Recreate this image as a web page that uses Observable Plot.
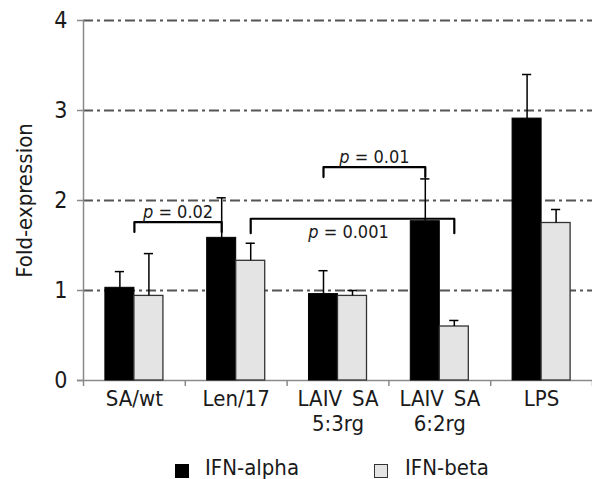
<!DOCTYPE html>
<html>
<head>
<meta charset="utf-8">
<script src="https://cdn.jsdelivr.net/npm/d3@7"></script>
<script src="https://cdn.jsdelivr.net/npm/@observablehq/plot@0.6"></script>
<style>
  html, body { margin: 0; padding: 0; background: #fff; }
  body { width: 592px; height: 479px; overflow: hidden; font-family: 'Liberation Sans Narrow', 'Arial Narrow', 'DejaVu Sans Condensed', sans-serif; color: #1a1a1a; }
  #legend { position: relative; height: 43px; width: 592px; font-size: 22px; }
  #legend .sw { position: absolute; top: 28px; width: 12px; height: 12px; }
  #legend .lb { position: absolute; top: 21px; line-height: 22px; }
</style>
</head>
<body>
<div id="chart"></div>
<div id="legend"></div>
<script>
// ---- data ----
const categories = ["SA/wt", "Len/17", "LAIV\u2002SA\n5:3rg", "LAIV\u2002SA\n6:2rg", "LPS"];
const seriesNames = ["IFN-alpha", "IFN-beta"];
const alphaValues = [1.03, 1.585, 0.96, 1.77, 2.91];
const alphaErrors = [0.18, 0.445, 0.26, 0.47, 0.49];
const betaValues  = [0.94, 1.33, 0.94, 0.60, 1.75];
const betaErrors  = [0.47, 0.195, 0.06, 0.067, 0.15];
const yTicks = [0, 1, 2, 3, 4];
const gridValues = [1, 2, 3, 4];
// significance brackets
const pLabels      = ["p = 0.02", "p = 0.001", "p = 0.01"];
const bracketFrom  = [["SA/wt", "mid"], ["Len/17", "IFN-beta"], ["LAIV\u2002SA\n5:3rg", "IFN-alpha"]];
const bracketTo    = [["Len/17", "IFN-alpha"], ["LAIV\u2002SA\n6:2rg", "IFN-beta"], ["LAIV\u2002SA\n6:2rg", "IFN-alpha"]];
const bracketTop   = [1.76, 1.797, 2.37];
const bracketDrop  = [0.11, 0.16, 0.11];
const labelSide    = ["above", "below", "above"];

// ---- derived ----
const FONT = "'Liberation Sans Narrow', 'Arial Narrow', 'DejaVu Sans Condensed', sans-serif";
const bw = 0.285; // bar width in category units
const colors = {"IFN-alpha": "#000000", "IFN-beta": "#e4e4e4"};
const rows = categories.map((c, i) => ({
  cat: c, i,
  alpha: alphaValues[i], alphaTop: alphaValues[i] + alphaErrors[i],
  beta: betaValues[i], betaTop: betaValues[i] + betaErrors[i]
}));
const pos = ([cat, s]) => {
  const c = categories.indexOf(cat) + 0.5;
  return s === "IFN-alpha" ? c - bw / 2 : s === "IFN-beta" ? c + bw / 2 : c;
};
const bracketPts = [];
const bracketTexts = [];
pLabels.forEach((p, k) => {
  const x1 = pos(bracketFrom[k]), x2 = pos(bracketTo[k]);
  const t = bracketTop[k], b = t - bracketDrop[k];
  bracketPts.push({k, x: x1, y: b}, {k, x: x1, y: t}, {k, x: x2, y: t}, {k, x: x2, y: b});
  bracketTexts.push({p, x: (x1 + x2) / 2, y: t, side: labelSide[k]});
});

const capHalf = 0.045;

const chart = Plot.plot({
  width: 592,
  height: 436,
  marginLeft: 83,
  marginRight: 0,
  marginTop: 20,
  marginBottom: 56,
  style: {fontFamily: FONT, color: "#1a1a1a", background: "#fff"},
  x: {type: "linear", domain: [0, 5], axis: null},
  y: {domain: [0, 4], axis: null},
  marks: [
    // gridlines
    Plot.ruleY(gridValues, {x1: 0, x2: 5, stroke: "#555", strokeWidth: 2, strokeDasharray: "10,4,3,4"}),
    // axes lines
    Plot.ruleX([0], {y1: 0, y2: 4, stroke: "#8a8a8a", strokeWidth: 1.5}),
    Plot.ruleY([0], {x1: -0.06, x2: 5, stroke: "#8a8a8a", strokeWidth: 1.5}),
    Plot.axisY({ticks: yTicks, tickFormat: d => String(d), tickSize: 6, tickPadding: 10, fontSize: 23, stroke: "#8a8a8a", strokeWidth: 1.5, label: null}),
    Plot.axisX({ticks: [0, 1, 2, 3, 4, 5], tickSize: 6, tickFormat: () => "", stroke: "#8a8a8a", strokeWidth: 1.5, label: null}),
    // x labels
    Plot.text(rows, {x: d => d.i + 0.5, text: "cat", frameAnchor: "bottom", lineAnchor: "top", dy: 8, fontSize: 22, lineHeight: 1.12}),
    // y label
    Plot.text(["Fold-expression"], {frameAnchor: "left", textAnchor: "middle", rotate: -90, dx: -59, fontSize: 22}),
    // bars
    Plot.rectY(rows, {x1: d => d.i + 0.5 - bw, x2: d => d.i + 0.5, y1: 0, y2: "alpha", fill: colors["IFN-alpha"], stroke: "#000", strokeWidth: 1}),
    Plot.rectY(rows, {x1: d => d.i + 0.5, x2: d => d.i + 0.5 + bw, y1: 0, y2: "beta", fill: colors["IFN-beta"], stroke: "#333", strokeWidth: 1.3}),
    // error bars
    Plot.ruleX(rows, {x: d => d.i + 0.5 - bw / 2, y1: "alpha", y2: "alphaTop", stroke: "#000", strokeWidth: 1.5}),
    Plot.ruleY(rows, {y: "alphaTop", x1: d => d.i + 0.5 - bw / 2 - capHalf, x2: d => d.i + 0.5 - bw / 2 + capHalf, stroke: "#000", strokeWidth: 1.5}),
    Plot.ruleX(rows, {x: d => d.i + 0.5 + bw / 2, y1: "beta", y2: "betaTop", stroke: "#000", strokeWidth: 1.5}),
    Plot.ruleY(rows, {y: "betaTop", x1: d => d.i + 0.5 + bw / 2 - capHalf, x2: d => d.i + 0.5 + bw / 2 + capHalf, stroke: "#000", strokeWidth: 1.5}),
    // brackets
    Plot.line(bracketPts, {x: "x", y: "y", z: "k", stroke: "#000", strokeWidth: 2.2, strokeLinejoin: "round", strokeLinecap: "round", curve: "linear"}),
    Plot.text(bracketTexts.filter(d => d.side === "above"), {x: "x", y: "y", text: "p", lineAnchor: "bottom", dy: -4, fontSize: 18, className: "plabel"}),
    Plot.text(bracketTexts.filter(d => d.side === "below"), {x: "x", y: "y", text: "p", lineAnchor: "top", dy: 6, dx: -4, fontSize: 18, className: "plabel"})
  ]
});
document.getElementById("chart").appendChild(chart);

// italic "p" in the p-value labels
chart.querySelectorAll(".plabel text").forEach(t => {
  const s = t.textContent;
  if (s.startsWith("p")) {
    t.textContent = "";
    const ns = "http://www.w3.org/2000/svg";
    const a = document.createElementNS(ns, "tspan");
    a.setAttribute("font-style", "italic");
    a.textContent = "p";
    const b = document.createElementNS(ns, "tspan");
    b.textContent = s.slice(1);
    t.appendChild(a); t.appendChild(b);
  }
});

// legend
const legend = document.getElementById("legend");
const legendX = [[175, 205], [374, 405]];
seriesNames.forEach((name, k) => {
  const sw = document.createElement("div");
  sw.className = "sw";
  sw.style.left = legendX[k][0] + "px";
  sw.style.background = colors[name];
  sw.style.border = "1px solid " + (k === 0 ? "#000" : "#333");
  legend.appendChild(sw);
  const lb = document.createElement("div");
  lb.className = "lb";
  lb.style.left = legendX[k][1] + "px";
  lb.textContent = name;
  legend.appendChild(lb);
});
</script>
</body>
</html>
